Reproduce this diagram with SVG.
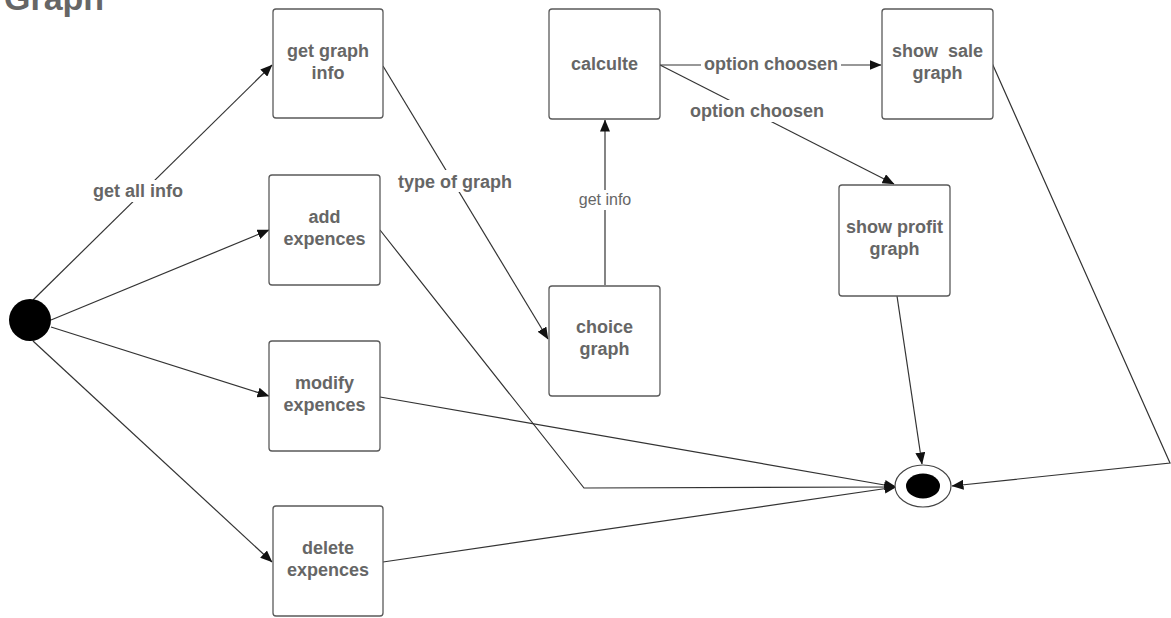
<svg xmlns="http://www.w3.org/2000/svg" width="1171" height="618" viewBox="0 0 1171 618">
  <style>
    .box { fill: #ffffff; stroke: #5a5a5a; stroke-width: 1.3; }
    .lbl { font-family: "Liberation Sans", Arial, sans-serif; font-size: 18px; font-weight: bold; fill: #666666; text-anchor: middle; }
    .elbl { font-family: "Liberation Sans", Arial, sans-serif; font-size: 18px; font-weight: bold; fill: #666666; text-anchor: middle; }
    .elbl-thin { font-family: "Liberation Sans", Arial, sans-serif; font-size: 16px; fill: #666666; text-anchor: middle; }
    .edge { fill: none; stroke: #333333; stroke-width: 1.2; }
    .bg { fill: #ffffff; }
  </style>
  <defs>
    <marker id="arrow" viewBox="0 0 12 10" refX="11.5" refY="5" markerWidth="12" markerHeight="10" markerUnits="userSpaceOnUse" orient="auto">
      <path d="M0,0 L12,5 L0,10 z" fill="#111111"/>
    </marker>
  </defs>

  <rect width="1171" height="618" fill="#ffffff"/>

  <!-- title -->
  <text x="4" y="10" font-family="Liberation Sans, Arial, sans-serif" font-size="34" font-weight="bold" fill="#666666">Graph</text>

  <!-- connectors -->
  <g id="connectors">
    <path class="edge" d="M33,300 L272,65" marker-end="url(#arrow)"/>
    <path class="edge" d="M51,320 L269,230" marker-end="url(#arrow)"/>
    <path class="edge" d="M51,327 L269,396" marker-end="url(#arrow)"/>
    <path class="edge" d="M33,341 L272,562" marker-end="url(#arrow)"/>
    <path class="edge" d="M383,66 L548,339" marker-end="url(#arrow)"/>
    <path class="edge" d="M605,285 L605,120" marker-end="url(#arrow)"/>
    <path class="edge" d="M660,65 L881,65" marker-end="url(#arrow)"/>
    <path class="edge" d="M660,65 L894,184" marker-end="url(#arrow)"/>
    <path class="edge" d="M897,296 L922,464" marker-end="url(#arrow)"/>
    <path class="edge" d="M992,63 L1170,463 L952,486" marker-end="url(#arrow)"/>
    <path class="edge" d="M380,230 L584,488 L896,487" marker-end="url(#arrow)"/>
    <path class="edge" d="M380,397 L896,487" marker-end="url(#arrow)"/>
    <path class="edge" d="M383,562 L896,487" marker-end="url(#arrow)"/>

    <!-- connector labels -->
    <rect class="bg" x="90" y="180" width="96" height="22"/>
    <text class="elbl" x="138" y="197">get all info</text>
    <rect class="bg" x="395" y="170" width="120" height="22"/>
    <text class="elbl" x="455" y="188">type of graph</text>
    <rect class="bg" x="574" y="190" width="62" height="20"/>
    <text class="elbl-thin" x="605" y="205">get info</text>
    <rect class="bg" x="701" y="54" width="140" height="22"/>
    <text class="elbl" x="771" y="70">option choosen</text>
    <rect class="bg" x="687" y="100" width="140" height="22"/>
    <text class="elbl" x="757" y="117">option choosen</text>
  </g>

  <!-- initial state -->
  <g id="start">
    <circle cx="30" cy="320" r="21" fill="#000000"/>
  </g>

  <!-- final state -->
  <g id="end">
    <ellipse cx="923" cy="486" rx="28" ry="21" fill="#ffffff" stroke="#444444" stroke-width="1.2"/>
    <ellipse cx="923" cy="486" rx="17" ry="12.5" fill="#000000"/>
  </g>

  <g id="get-graph-info">
    <rect class="box" x="273" y="9" width="110" height="109" rx="3"/>
    <text class="lbl" x="328" y="57">get graph</text>
    <text class="lbl" x="328" y="79">info</text>
  </g>

  <g id="add-expences">
    <rect class="box" x="269" y="175" width="111" height="110" rx="3"/>
    <text class="lbl" x="324.5" y="223">add</text>
    <text class="lbl" x="324.5" y="245">expences</text>
  </g>

  <g id="modify-expences">
    <rect class="box" x="269" y="341" width="111" height="110" rx="3"/>
    <text class="lbl" x="324.5" y="389">modify</text>
    <text class="lbl" x="324.5" y="411">expences</text>
  </g>

  <g id="delete-expences">
    <rect class="box" x="273" y="506" width="110" height="110" rx="3"/>
    <text class="lbl" x="328" y="554">delete</text>
    <text class="lbl" x="328" y="576">expences</text>
  </g>

  <g id="choice-graph">
    <rect class="box" x="549" y="286" width="111" height="110" rx="3"/>
    <text class="lbl" x="604.5" y="333">choice</text>
    <text class="lbl" x="604.5" y="355">graph</text>
  </g>

  <g id="calculte">
    <rect class="box" x="549" y="9" width="111" height="110" rx="3"/>
    <text class="lbl" x="604.5" y="70">calculte</text>
  </g>

  <g id="show-sale-graph">
    <rect class="box" x="882" y="9" width="111" height="110" rx="3"/>
    <text class="lbl" x="937.5" y="57" xml:space="preserve">show  sale</text>
    <text class="lbl" x="937.5" y="79">graph</text>
  </g>

  <g id="show-profit-graph">
    <rect class="box" x="839" y="185" width="111" height="111" rx="3"/>
    <text class="lbl" x="894.5" y="233">show profit</text>
    <text class="lbl" x="894.5" y="255">graph</text>
  </g>
</svg>
